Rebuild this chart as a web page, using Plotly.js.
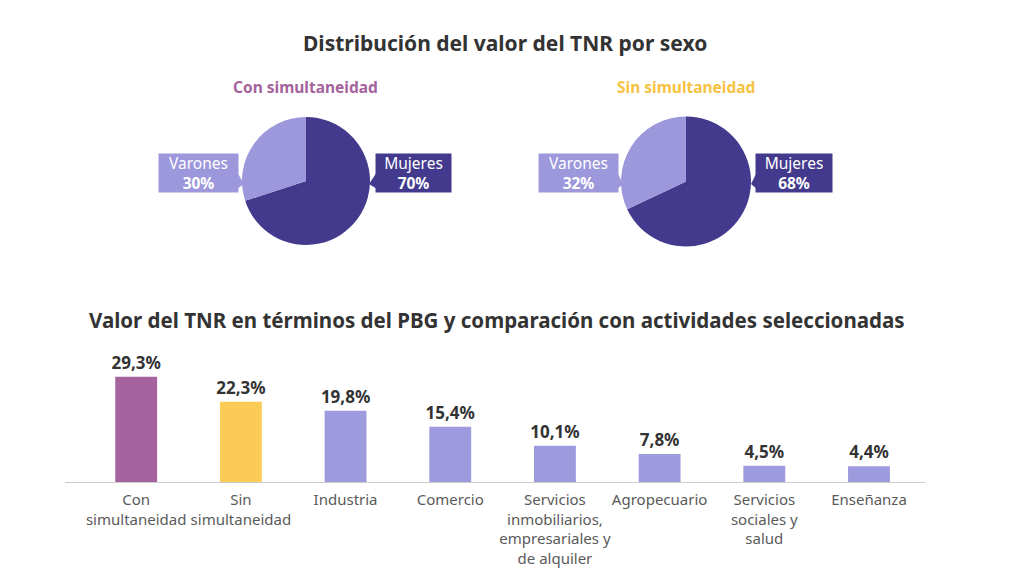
<!DOCTYPE html>
<html><head><meta charset="utf-8">
<script src="https://cdn.plot.ly/plotly-3.0.1.min.js"></script>
<style>html,body{margin:0;padding:0;background:#fff}#c{width:1024px;height:576px}</style>
</head><body><div id="c"></div>
<script>
const sexLabels = ["Mujeres", "Varones"];
const conSim = [70, 30];
const sinSim = [68, 32];
const categories = ["Con<br>simultaneidad", "Sin<br>simultaneidad", "Industria", "Comercio",
  "Servicios<br>inmobiliarios,<br>empresariales y<br>de alquiler", "Agropecuario",
  "Servicios<br>sociales y<br>salud", "Enseñanza"];
const values = [29.3, 22.3, 19.8, 15.4, 10.1, 7.8, 4.5, 4.4];
const valueLabels = ["29,3%", "22,3%", "19,8%", "15,4%", "10,1%", "7,8%", "4,5%", "4,4%"];

const W = 1024, H = 576;
const px = x => x / W, py = y => (H - y) / H;
const cMuj = "#433A8E", cVar = "#9D97DB";
const barColors = ["#A4639C", "#FBCB57", "#9E9ADE", "#9E9ADE", "#9E9ADE", "#9E9ADE", "#9E9ADE", "#9E9ADE"];
const FONT = "Noto Sans, Open Sans, sans-serif";

function pie(vals, x0, x1, y0, y1) {
  return {type: "pie", labels: sexLabels, values: vals, sort: false, direction: "clockwise",
    rotation: 0, textinfo: "none", hoverinfo: "label+percent",
    marker: {colors: [cMuj, cVar]}, showlegend: false,
    domain: {x: [px(x0), px(x1)], y: [py(y1), py(y0)]}};
}

const data = [
  pie(conSim, 242, 370, 116, 246),
  pie(sinSim, 621, 751, 116, 247),
  {type: "bar", x: categories, y: values, text: valueLabels, textposition: "outside",
   constraintext: "none", cliponaxis: false, width: 0.4, marker: {color: barColors},
   textfont: {family: FONT, size: 17, color: "#333333", weight: 700},
   xaxis: "x", yaxis: "y", showlegend: false, hoverinfo: "x+y"}
];

function box(x0, x1, y0, y1, color, label, val) {
  return {xref: "paper", yref: "paper", x: px((x0 + x1) / 2), y: py((y0 + y1) / 2),
    xanchor: "center", yanchor: "middle", showarrow: false,
    text: label + "<br><b>" + val + "%</b>", bgcolor: color,
    width: x1 - x0, height: y1 - y0, align: "center",
    font: {family: FONT, size: 15.5, color: "#ffffff"}};
}
function tri(pts, color) {
  return {type: "path", xref: "paper", yref: "paper",
    path: "M " + pts.map(p => px(p[0]) + "," + py(p[1])).join(" L ") + " Z",
    fillcolor: color, line: {width: 0}};
}

const layout = {
  width: W, height: H, margin: {l: 0, r: 0, t: 0, b: 0},
  paper_bgcolor: "#ffffff", plot_bgcolor: "#ffffff",
  font: {family: FONT},
  xaxis: {domain: [px(65), px(925)], range: [-0.68, 7.535], showline: true, linecolor: "#cccccc",
    linewidth: 1, showgrid: false, zeroline: false, ticks: "", ticklabelstandoff: 4, tickangle: 0,
    automargin: false, tickfont: {family: FONT, size: 15, color: "#5a5a5a"}, fixedrange: true},
  yaxis: {domain: [py(482), py(367)], range: [0, 32], visible: false, fixedrange: true},
  bargap: 0.6,
  annotations: [
    {xref: "paper", yref: "paper", x: px(505), y: py(43), text: "<b>Distribución del valor del TNR por sexo</b>",
     showarrow: false, xanchor: "center", yanchor: "middle", font: {family: FONT, size: 21, color: "#333333"}},
    {xref: "paper", yref: "paper", x: px(305), y: py(87), text: "<b>Con simultaneidad</b>",
     showarrow: false, xanchor: "center", yanchor: "middle", font: {family: FONT, size: 15.5, color: "#A4639C"}},
    {xref: "paper", yref: "paper", x: px(686), y: py(87), text: "<b>Sin simultaneidad</b>",
     showarrow: false, xanchor: "center", yanchor: "middle", font: {family: FONT, size: 15.5, color: "#F5C242"}},
    box(160, 237, 155, 191, cVar, sexLabels[1], conSim[1]),
    box(377, 450, 155, 191, cMuj, sexLabels[0], conSim[0]),
    box(540, 617, 155, 191, cVar, sexLabels[1], sinSim[1]),
    box(757, 831, 155, 191, cMuj, sexLabels[0], sinSim[0]),
    {xref: "paper", yref: "paper", x: px(497), y: py(320),
     text: "<b>Valor del TNR en términos del PBG y comparación con actividades seleccionadas</b>",
     showarrow: false, xanchor: "center", yanchor: "middle", font: {family: FONT, size: 20.5, color: "#333333"}}
  ],
  shapes: [
    tri([[237, 172], [244, 184], [237, 189]], cVar),
    tri([[377, 172], [369, 184], [377, 189]], cMuj),
    tri([[617, 172], [623, 184], [617, 189]], cVar),
    tri([[757, 172], [751, 184], [757, 189]], cMuj)
  ]
};

Plotly.newPlot("c", data, layout, {displayModeBar: false, staticPlot: true});
</script></body></html>
